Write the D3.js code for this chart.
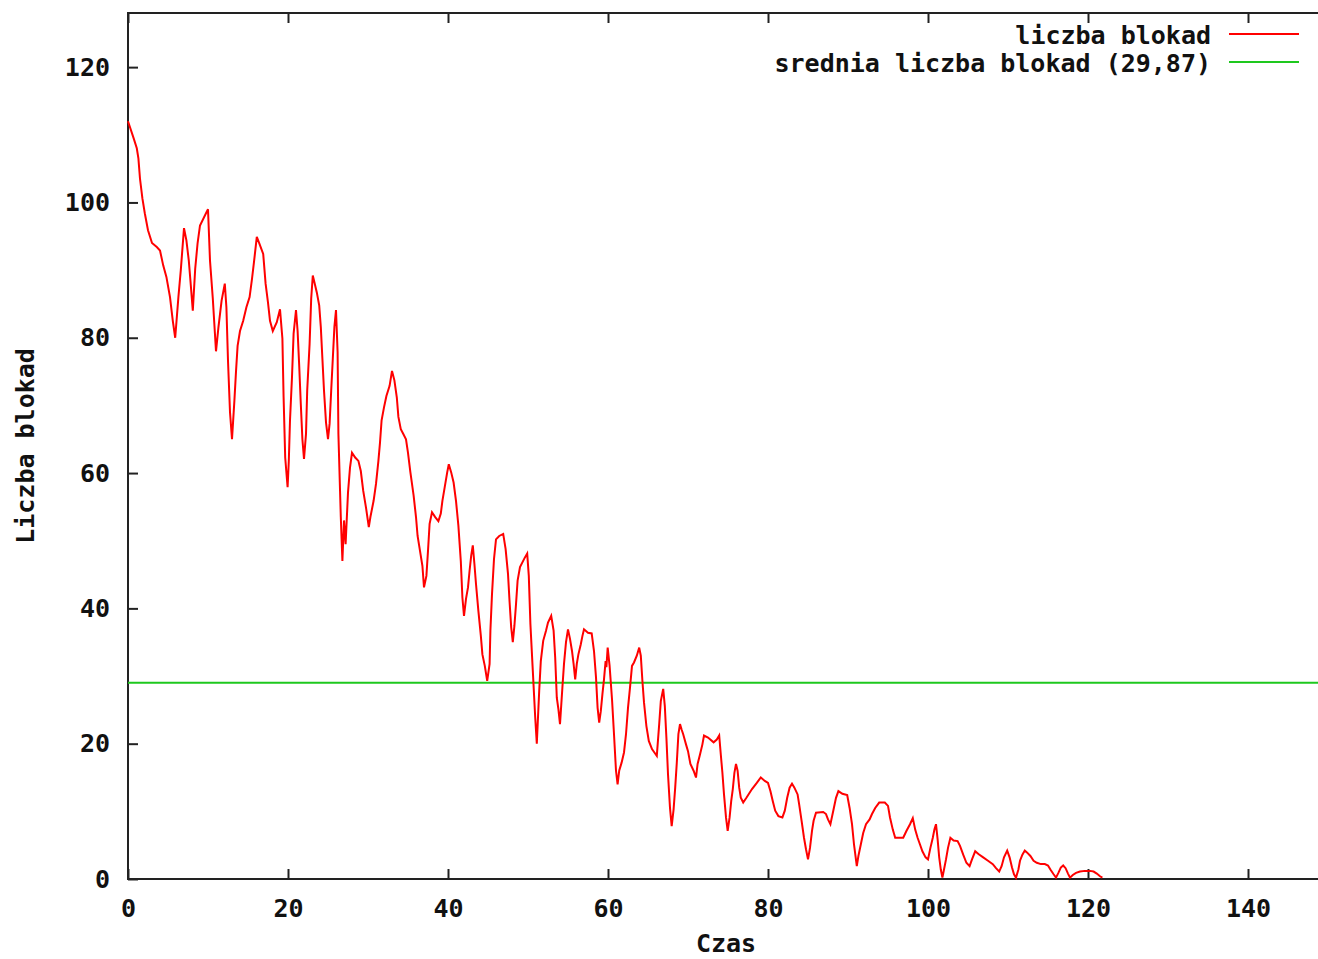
<!DOCTYPE html>
<html>
<head>
<meta charset="utf-8">
<script src="https://cdn.jsdelivr.net/npm/d3@7"></script>
<style>
  body { margin: 0; background: #fff; }
  svg { display: block; }
  text { font-family: "DejaVu Sans Mono", monospace; font-weight: bold; font-size: 25px; fill: #111; }
</style>
</head>
<body>
<svg id="chart" width="1318" height="959"></svg>
<script>
// ====== dane ======
const czas = [
  0, 0.7, 1.1, 1.3, 1.5, 1.8, 2.1, 2.5, 3.0, 3.6, 4.0, 4.4, 4.8, 5.25, 5.6, 5.9, 6.3, 6.6, 7.0, 7.3,
  7.6, 7.8, 8.1, 8.4, 8.7, 9.0, 9.75, 10.0, 10.25, 10.6, 11.0, 11.3, 11.7, 12.1, 12.3, 12.5, 12.75, 13.0, 13.3, 13.5,
  13.7, 14.0, 14.4, 14.8, 15.2, 15.5, 15.75, 16.1, 16.4, 16.9, 17.2, 17.5, 17.75, 18.1, 18.6, 19.0, 19.3, 19.45, 19.65, 19.95,
  20.1, 20.25, 20.5, 20.7, 21.0, 21.2, 21.4, 21.6, 21.8, 22.0, 22.25, 22.4, 22.7, 22.9, 23.1, 23.3, 23.6, 23.9, 24.1, 24.3,
  24.5, 24.75, 25.0, 25.2, 25.4, 25.6, 25.8, 26.0, 26.2, 26.3, 26.6, 26.8, 27.0, 27.2, 27.5, 27.75, 28.0, 28.4, 28.8, 29.1,
  29.4, 29.75, 30.1, 30.3, 30.7, 31.0, 31.3, 31.5, 31.7, 32.0, 32.3, 32.7, 33.0, 33.3, 33.6, 33.8, 34.1, 34.4, 34.75, 35.0,
  35.3, 35.7, 36.0, 36.2, 36.5, 36.8, 37.0, 37.3, 37.5, 37.7, 38.0, 38.4, 38.8, 39.1, 39.3, 39.6, 39.9, 40.1, 40.4, 40.7,
  41.0, 41.3, 41.6, 41.8, 42.0, 42.25, 42.5, 42.7, 42.9, 43.1, 43.3, 43.5, 43.8, 44.1, 44.3, 44.6, 44.9, 45.2, 45.3, 45.5,
  45.75, 46.0, 46.4, 46.9, 47.2, 47.5, 47.7, 47.9, 48.1, 48.3, 48.5, 48.7, 49.0, 49.3, 49.6, 49.9, 50.1, 50.3, 50.6, 50.9,
  51.1, 51.4, 51.6, 51.9, 52.25, 52.5, 52.9, 53.2, 53.4, 53.6, 53.8, 54.0, 54.3, 54.5, 54.75, 55.0, 55.25, 55.5, 55.7, 55.9,
  56.1, 56.3, 56.6, 56.8, 57.0, 57.5, 57.96, 58.25, 58.5, 58.7, 58.9, 59.1, 59.3, 59.5, 59.7, 59.8, 59.96, 60.2, 60.5, 60.75,
  61.0, 61.2, 61.4, 61.7, 62.0, 62.25, 62.5, 62.75, 63.0, 63.25, 63.6, 63.9, 64.1, 64.3, 64.5, 64.8, 65.1, 65.5, 65.8, 66.1,
  66.4, 66.6, 66.9, 67.1, 67.3, 67.5, 67.75, 67.96, 68.2, 68.4, 68.6, 68.8, 69.0, 69.2, 69.4, 69.75, 70.0, 70.3, 70.7, 71.0,
  71.2, 71.5, 71.8, 72.0, 72.5, 73.2, 73.6, 73.9, 74.1, 74.3, 74.5, 74.75, 74.96, 75.2, 75.4, 75.6, 75.8, 76.0, 76.2, 76.4,
  76.6, 76.9, 77.3, 78.0, 78.6, 79.1, 79.6, 80.0, 80.3, 80.6, 80.9, 81.3, 81.8, 82.1, 82.4, 82.7, 83.0, 83.3, 83.7, 83.9,
  84.2, 84.5, 84.75, 85.0, 85.25, 85.5, 85.7, 86.0, 86.9, 87.25, 87.5, 87.8, 88.2, 88.5, 88.8, 89.3, 89.9, 90.2, 90.5, 90.75,
  91.1, 91.3, 91.6, 91.9, 92.25, 92.7, 93.0, 93.4, 93.9, 94.6, 95.0, 95.25, 95.6, 95.9, 96.9, 97.3, 97.75, 98.1, 98.4, 98.7,
  99.0, 99.3, 99.7, 100.0, 100.3, 100.6, 100.8, 101.0, 101.2, 101.4, 101.6, 101.8, 102.0, 102.25, 102.5, 102.8, 103.2, 103.7, 104.0, 104.4,
  104.8, 105.2, 105.5, 105.9, 106.3, 106.9, 107.5, 108.1, 108.5, 108.9, 109.2, 109.5, 109.9, 110.2, 110.5, 110.75, 111.0, 111.3, 111.5, 111.8,
  112.1, 112.4, 112.8, 113.2, 113.6, 114.1, 114.6, 115.0, 115.3, 115.7, 116.0, 116.3, 116.6, 116.9, 117.2, 117.5, 117.75, 118.1, 118.5, 119.0,
  119.6, 120.25, 120.7, 121.1, 121.5, 121.8
];
const blokady = [
  112, 109.5, 108, 106.5, 103.5, 100.6, 98.4, 95.9, 94, 93.4, 92.9, 90.7, 89, 86, 82.5, 80, 86, 90, 96.2, 94.4,
  91.4, 88.5, 84, 90.2, 94, 96.6, 98.4, 99, 91.4, 85.8, 78, 81.5, 85.5, 88, 84.5, 76.6, 69, 65, 70.7, 75,
  78.8, 81, 82.5, 84.5, 86, 88.7, 91.2, 94.9, 94, 92.4, 88, 85.2, 82.5, 81, 82.3, 84.2, 79.9, 71.2, 62.3, 57.9,
  61.8, 67.8, 74.2, 80.6, 84.1, 81, 75.9, 70.2, 65, 62.1, 65.8, 72.2, 79.1, 85.8, 89.2, 88.2, 86.7, 84.8, 81.6, 76.9,
  72.2, 67.5, 65, 67.3, 72.2, 76.9, 81.6, 84.1, 77.9, 65.8, 53.5, 47, 53, 49.5, 57.1, 60.8, 63, 62.3, 61.8, 60.3,
  57.4, 54.9, 52, 53.5, 55.9, 58.4, 61.8, 64.5, 67.8, 69.7, 71.4, 72.9, 75.1, 73.7, 71.2, 68.3, 66.5, 65.8, 65, 63,
  60.1, 56.7, 53.5, 50.7, 48.5, 46.3, 43.1, 44.8, 48.5, 52.5, 54.2, 53.5, 52.9, 54, 55.9, 58, 60.1, 61.3, 60.1, 58.6,
  55.9, 52.2, 47, 41.6, 38.9, 41.4, 43.1, 45.6, 47.8, 49.3, 46.6, 43.6, 39.6, 36, 33.2, 31.5, 29.3, 31.8, 36.7, 42.1,
  47.3, 50.2, 50.7, 51, 48.8, 45.1, 40.9, 37.2, 35, 37.4, 40.6, 44.1, 46.1, 46.8, 47.5, 48.1, 44.8, 37.7, 30.8, 23.9,
  20, 27.8, 32.2, 35.2, 36.7, 37.9, 38.9, 36.7, 32.7, 26.8, 25.1, 22.9, 28.3, 31.8, 35, 36.9, 35.5, 33.7, 31.8, 29.5,
  31.8, 33.2, 34.7, 35.9, 36.9, 36.4, 36.3, 33.7, 29.8, 25.3, 23.1, 24.8, 27.3, 29.5, 32.2, 31.3, 34.2, 31.5, 26.6, 21.4,
  16, 14, 16, 17.2, 18.7, 21.4, 25.3, 28.3, 31.5, 32, 33, 34.2, 33, 29.3, 26.1, 22.6, 20.4, 19.2, 18.7, 18.2,
  22.9, 26.3, 28.1, 25.6, 20.9, 15.5, 10.5, 7.8, 10.3, 13.5, 17.2, 21.4, 22.9, 22.1, 21.4, 19.9, 18.9, 17, 16, 15,
  17, 18.4, 19.9, 21.2, 20.9, 20.2, 20.6, 21.2, 18.4, 15.7, 12.5, 9.1, 7.1, 9.1, 11.5, 13.3, 15.7, 17, 16, 13.5,
  12, 11.3, 12, 13.3, 14.2, 15, 14.5, 14.2, 13, 11.5, 10.1, 9.3, 9.1, 10.1, 12, 13.5, 14.1, 13.5, 12.5, 11,
  8.6, 6.1, 4.4, 2.9, 4.6, 7.1, 8.6, 9.8, 9.9, 9.6, 8.8, 8.1, 10.3, 12, 13, 12.6, 12.4, 10.5, 8.1, 5.1,
  1.9, 3.4, 5.1, 6.8, 8.1, 8.8, 9.6, 10.5, 11.3, 11.3, 10.8, 9.1, 7.3, 6.1, 6.1, 7.1, 8.1, 9, 7.3, 6.1,
  5.1, 4.1, 3.2, 2.9, 4.6, 6.1, 7.3, 8.1, 5.9, 3.2, 1.4, 0.2, 1.4, 2.9, 4.6, 6.1, 5.7, 5.6, 4.9, 3.6,
  2.4, 1.9, 2.9, 4.1, 3.7, 3.2, 2.7, 2.2, 1.6, 1.1, 1.9, 3.2, 4.2, 3.2, 1.7, 0.7, 0.2, 1.4, 2.7, 3.6,
  4.2, 3.9, 3.4, 2.7, 2.4, 2.2, 2.2, 2, 1.4, 0.7, 0.2, 0.9, 1.7, 2, 1.6, 0.8, 0.2, 0.6, 0.9, 1.1,
  1.2, 1.2, 1.1, 0.8, 0.4, 0.2
];
const sredniaWartosc = 29;           // poziom zielonej linii
const sredniaEtykieta = "srednia liczba blokad (29,87)";
const xTicks = [0, 20, 40, 60, 80, 100, 120, 140];
const yTicks = [0, 20, 40, 60, 80, 100, 120];

// ====== wykres ======
const svg = d3.select("#chart");
const box = { left: 128, right: 1328, top: 13, bottom: 879 };

const x = d3.scaleLinear().domain([0, 150]).range([box.left, box.right]);
const y = d3.scaleLinear().domain([0, 128]).range([box.bottom, box.top]);

const n = Math.min(czas.length, blokady.length);
const data = czas.slice(0, n).map((t, i) => ({ t: t, v: blokady[i] }));

// osie (ticki do wewnątrz, jak w gnuplocie)
const axX = svg.append("g").attr("transform", `translate(0,${box.bottom})`)
  .call(d3.axisBottom(x).tickValues(xTicks).tickSize(-10).tickSizeOuter(0).tickPadding(20));
const axX2 = svg.append("g").attr("transform", `translate(0,${box.top})`)
  .call(d3.axisTop(x).tickValues(xTicks).tickSize(-10).tickSizeOuter(0).tickFormat(""));
const axY = svg.append("g").attr("transform", `translate(${box.left},0)`)
  .call(d3.axisLeft(y).tickValues(yTicks).tickSize(-10).tickSizeOuter(0).tickPadding(18));
const axY2 = svg.append("g").attr("transform", `translate(${box.right},0)`)
  .call(d3.axisRight(y).tickValues(yTicks).tickSize(-10).tickSizeOuter(0).tickFormat(""));

[axX, axX2, axY, axY2].forEach(a => {
  a.attr("font-family", null).attr("font-size", null);
  a.select(".domain").remove();
  a.selectAll(".tick line").attr("stroke", "#222").attr("stroke-width", 2);
  a.selectAll(".tick text").attr("fill", null);
});

// ramka
svg.append("rect")
  .attr("x", box.left).attr("y", box.top)
  .attr("width", box.right - box.left).attr("height", box.bottom - box.top)
  .attr("fill", "none").attr("stroke", "#222").attr("stroke-width", 2);

// średnia
svg.append("line")
  .attr("x1", x(0)).attr("x2", x(150))
  .attr("y1", y(sredniaWartosc)).attr("y2", y(sredniaWartosc))
  .attr("stroke", "#1ec81e").attr("stroke-width", 2);

// liczba blokad
const line = d3.line().x(d => x(d.t)).y(d => y(d.v));
svg.append("path")
  .datum(data)
  .attr("d", line)
  .attr("fill", "none")
  .attr("stroke", "#ff0000")
  .attr("stroke-width", 2);

// tytuły osi
svg.append("text")
  .attr("x", (box.left + box.right) / 2 - 2).attr("y", 952)
  .attr("text-anchor", "middle")
  .text("Czas");

svg.append("text")
  .attr("transform", `translate(34,${(box.top + box.bottom) / 2}) rotate(-90)`)
  .attr("text-anchor", "middle")
  .text("Liczba blokad");

// legenda
const legend = [
  { label: "liczba blokad", color: "#ff0000", y: 34 },
  { label: sredniaEtykieta, color: "#1ec81e", y: 62 }
];
legend.forEach(d => {
  svg.append("text")
    .attr("x", 1211).attr("y", d.y + 10)
    .attr("text-anchor", "end")
    .text(d.label);
  svg.append("line")
    .attr("x1", 1229).attr("x2", 1299)
    .attr("y1", d.y).attr("y2", d.y)
    .attr("stroke", d.color).attr("stroke-width", 2);
});
</script>
</body>
</html>
